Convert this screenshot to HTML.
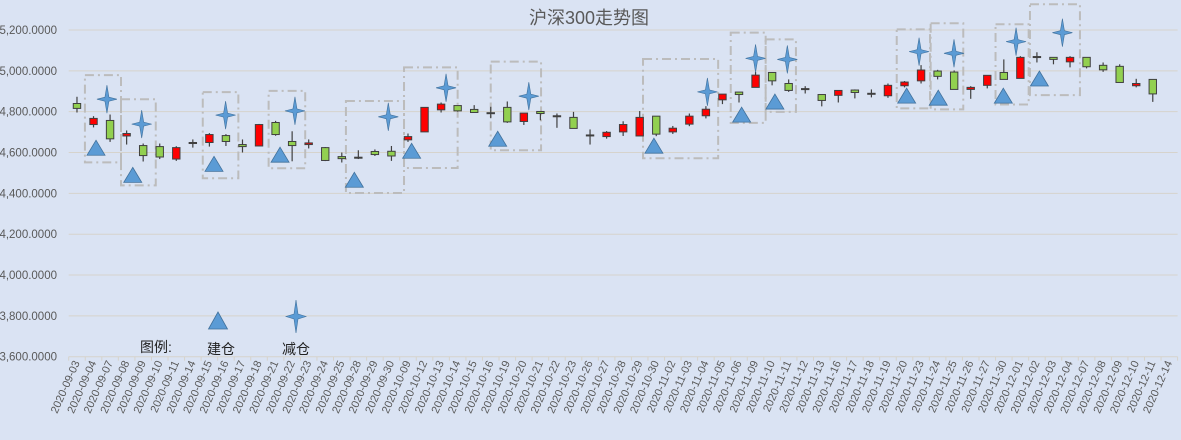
<!DOCTYPE html>
<html><head><meta charset="utf-8"><style>
html,body{margin:0;padding:0;background:#dae3f3;}
svg{display:block;font-family:"Liberation Sans","Noto Sans CJK SC",sans-serif;}
</style></head><body>
<svg id="chart" width="1181" height="440" xmlns="http://www.w3.org/2000/svg">
<rect x="0" y="0" width="1181" height="440" fill="#dae3f3"/>
<text x="589" y="24" font-size="18" fill="#595959" text-anchor="middle">沪深300走势图</text>
<g id="grid"></g><g id="boxes"></g><g id="candles"></g><g id="markers"></g><g id="xlabels"></g><g id="ylabels"></g>
<g>
<text x="140" y="352" font-size="14" fill="#222">图例:</text>
<polygon points="218,312 227.5,329 208.5,329" fill="#5b9bd5" stroke="#41719c" stroke-width="0.8"/>
<text x="207" y="354" font-size="14" fill="#222">建仓</text>
<path d="M296,300 L298,314 L306,316.5 L298,319 L296,333 L294,319 L286,316.5 L294,314 Z" fill="#5b9bd5" stroke="#41719c" stroke-width="0.6"/>
<text x="282" y="354" font-size="14" fill="#222">减仓</text>
</g>
</svg>
<script>
const dates=["2020-09-03","2020-09-04","2020-09-07","2020-09-08","2020-09-09","2020-09-10","2020-09-11","2020-09-14","2020-09-15","2020-09-16","2020-09-17","2020-09-18","2020-09-21","2020-09-22","2020-09-23","2020-09-24","2020-09-25","2020-09-28","2020-09-29","2020-09-30","2020-10-09","2020-10-12","2020-10-13","2020-10-14","2020-10-15","2020-10-16","2020-10-19","2020-10-20","2020-10-21","2020-10-22","2020-10-23","2020-10-26","2020-10-27","2020-10-28","2020-10-29","2020-10-30","2020-11-02","2020-11-03","2020-11-04","2020-11-05","2020-11-06","2020-11-09","2020-11-10","2020-11-11","2020-11-12","2020-11-13","2020-11-16","2020-11-17","2020-11-18","2020-11-19","2020-11-20","2020-11-23","2020-11-24","2020-11-25","2020-11-26","2020-11-27","2020-11-30","2020-12-01","2020-12-02","2020-12-03","2020-12-04","2020-12-07","2020-12-08","2020-12-09","2020-12-10","2020-12-11","2020-12-14"];
const openV=[4840,4737,4757,4681,4634,4629,4568,4649,4649,4683,4639,4632,4747,4654,4639,4624,4580,4577,4605,4606,4662,4701,4809,4830,4811,4795,4821,4752,4801,4780,4772,4686,4678,4701,4681,4778,4701,4739,4780,4858,4896,4919,4992,4938,4913,4884,4880,4906,4890,4878,4927,4951,4999,4994,4909,4929,4992,4963,5070,5066,5044,5066,5027,5022,4927,4958,null];
const highV=[4873,4778,4786,4708,4644,4644,4631,4664,4695,4690,4664,4740,4755,4704,4664,4627,4600,4611,4615,4632,4693,4821,4845,4830,4832,4824,4850,4793,4801,4791,4799,4713,4705,4753,4803,4778,4730,4791,4827,4886,4896,4995,4992,4958,4925,4884,4904,4909,4909,4938,4950,5028,5005,5002,4925,4978,5056,5072,5091,5066,5072,5066,5041,5032,4961,4958,null];
const lowV=[4796,4723,4652,4639,4556,4568,4559,4624,4629,4632,4600,4630,4682,4557,4620,4558,4551,4568,4583,4559,4652,4701,4796,4800,4796,4768,4745,4735,4758,4721,4718,4639,4668,4681,4681,4680,4691,4729,4767,4837,4845,4919,4929,4897,4889,4826,4845,4865,4870,4868,4919,4938,4958,4909,4863,4914,4958,4963,5041,5032,5017,5012,4995,4943,4919,4848,null];
const closeV=[4816,4767,4667,4693,4585,4578,4624,4649,4688,4654,4629,4737,4688,4634,4647,4561,4570,4575,4590,4583,4678,4821,4837,4804,4796,4794,4750,4793,4791,4778,4718,4684,4699,4737,4772,4690,4719,4778,4812,4886,4884,4979,4951,4904,4911,4855,4904,4894,4889,4929,4945,5004,4973,4909,4919,4978,4958,5066,5068,5056,5066,5020,5005,4943,4938,4887,null];
const yTicks=[3600,3800,4000,4200,4400,4600,4800,5000,5200];
const yTickLabels=["3,600.0000","3,800.0000","4,000.0000","4,200.0000","4,400.0000","4,600.0000","4,800.0000","5,000.0000","5,200.0000"];
const buildX=[1.15,3.37,8.28,12.27,16.76,20.22,25.42,34.86,40.16,42.17,50.13,52.04,55.97,58.15];
const buildY=[4621,4488,4542,4587,4464,4606,4665,4631,4783,4847,4876,4866,4876,4960];
const reduceX=[1.81,3.91,8.98,13.17,18.81,22.3,27.3,38.09,41.0,42.92,50.88,52.99,56.74,59.54];
const reduceY=[4861,4739,4783,4804,4775,4917,4876,4897,5061,5056,5094,5086,5143,5187];
const boxX0=[0.48,2.66,7.6,11.58,16.25,19.76,25.0,34.2,39.5,41.61,49.53,51.58,55.5,57.58];
const boxX1=[2.66,4.76,9.75,13.79,19.76,23.0,28.04,38.74,41.61,43.44,51.54,53.55,57.5,60.6];
const boxTop=[4979,4861,4896,4902,4852,5017,5045,5058,5187,5154,5203,5233,5228,5326];
const boxBot=[4552,4439,4474,4523,4402,4524,4611,4572,4745,4799,4816,4811,4835,4881];

const NS="http://www.w3.org/2000/svg";
const L=68.7,R=1177.6,T=30,B=356.7,VMIN=3600,VMAX=5200;
const bw=(R-L)/dates.length;
function xs(i){return L+(i+0.5)*bw;}
function ys(v){return B-(v-VMIN)/(VMAX-VMIN)*(B-T);}
function mk(tag,attrs,parent){const e=document.createElementNS(NS,tag);for(const k in attrs)e.setAttribute(k,attrs[k]);parent.appendChild(e);return e;}
const grid=document.getElementById('grid'),yl=document.getElementById('ylabels');
yTicks.forEach((v,k)=>{
  const ln=mk('line',{x1:L,x2:R,y1:ys(v),y2:ys(v),stroke:'#d6d3cc','stroke-width':1},grid);
  
  
  const t=mk('text',{x:57,y:ys(v)+4,'font-size':11.5,fill:'#595959','text-anchor':'end'},yl);
  t.textContent=yTickLabels[k];
  
  
});
const xl=document.getElementById('xlabels');
for(let i=0;i<=dates.length;i++){
  const tk=mk('line',{x1:L+i*bw,x2:L+i*bw,y1:B,y2:B+4,stroke:'#d6d3cc'},grid);
  
  
}
dates.forEach((d,i)=>{
  const x=xs(i)+3,y=B+6;
  const t=mk('text',{x:x,y:y,'font-size':11,fill:'#595959','text-anchor':'end',transform:'rotate(-66 '+x+' '+y+')'},xl);
  t.textContent=d;
  
  
});
const bx=document.getElementById('boxes');
boxX0.forEach((a,k)=>{
  const x0=L+(a+0.5)*bw,x1=L+(boxX1[k]+0.5)*bw;
  const r=mk('rect',{x:x0,y:ys(boxTop[k]),width:x1-x0,height:ys(boxBot[k])-ys(boxTop[k]),fill:'none',stroke:'#bcbcbc','stroke-width':2,'stroke-dasharray':'9,4,2,4'},bx);
  
  
});
const cg=document.getElementById('candles');
dates.forEach((d,i)=>{
  if(openV[i]==null)return;
  const g=mk('g',{},cg);
  
  
  const x=xs(i);
  mk('line',{x1:x,x2:x,y1:ys(highV[i]),y2:ys(lowV[i]),stroke:'#404040','stroke-width':1.2},g);
  const top=ys(Math.max(openV[i],closeV[i])),bot=ys(Math.min(openV[i],closeV[i]));
  const up=closeV[i]>=openV[i];
  mk('rect',{x:x-3.7,y:top,width:7.4,height:Math.max(bot-top,1),fill:up?'#ff0000':'#92d050',stroke:'#404040','stroke-width':1},g);
});
const mg=document.getElementById('markers');
buildX.forEach((a,k)=>{
  const x=L+(a+0.5)*bw,y=ys(buildY[k]);
  const p=mk('polygon',{points:(x)+','+(y-8)+' '+(x+9)+','+(y+7)+' '+(x-9)+','+(y+7),fill:'#5b9bd5',stroke:'#41719c','stroke-width':0.8},mg);
  
  
});
reduceX.forEach((a,k)=>{
  const x=L+(a+0.5)*bw,y=ys(reduceY[k]);
  const d='M'+x+','+(y-14)+' L'+(x+2)+','+(y-2)+' L'+(x+10)+','+y+' L'+(x+2)+','+(y+2)+' L'+x+','+(y+14)+' L'+(x-2)+','+(y+2)+' L'+(x-10)+','+y+' L'+(x-2)+','+(y-2)+' Z';
  const p=mk('path',{d:d,fill:'#5b9bd5',stroke:'#41719c','stroke-width':0.6},mg);
  
  
});
</script>
</body></html>
